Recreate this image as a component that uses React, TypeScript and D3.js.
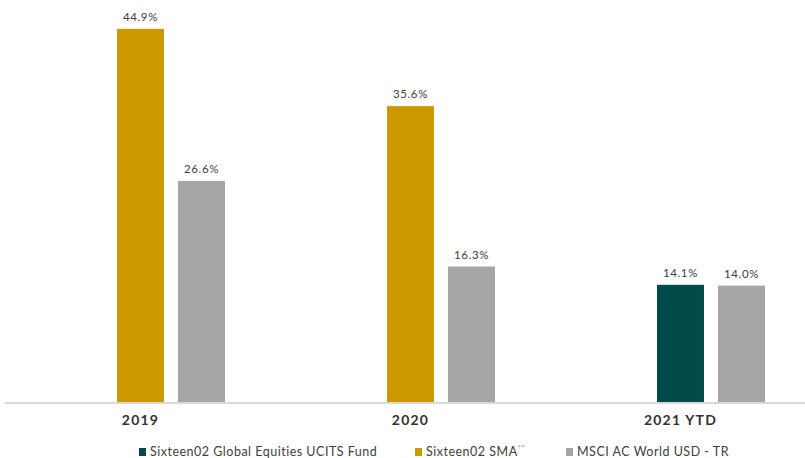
import * as d3 from "d3";

const categories = ["2019", "2020", "2021 YTD"];
const seriesNames = ["Sixteen02 Global Equities UCITS Fund", "Sixteen02 SMA", "MSCI AC World USD - TR"];
const fundValues: (number | null)[] = [null, null, 14.1];
const smaValues: (number | null)[] = [44.9, 35.6, null];
const msciValues: (number | null)[] = [26.6, 16.3, 14.0];
const colors = ["#014a4a", "#cc9900", "#a6a6a6"];

const W = 805;
const H = 458;

export default function App() {
  const base = 402;
  const y = d3.scaleLinear().domain([0, 45]).range([base, 28]);
  const x0 = d3.scaleBand<string>().domain(categories).range([117, 117 + 270 * 3]);
  const inner = d3.scaleBand<string>().domain(["0", "1"]).range([0, 108]).paddingInner(0.23);
  const bw = inner.bandwidth();

  const series = [fundValues, smaValues, msciValues];

  // nulls are skipped, remaining bars packed from the left slot
  const bars = categories.flatMap((c, ci) => {
    let slot = 0;
    const out: { key: string; x: number; v: number; color: string }[] = [];
    series.forEach((vals, si) => {
      const v = vals[ci];
      if (v == null) return;
      out.push({ key: c + si, x: (x0(c) ?? 0) + (inner(String(slot)) ?? 0), v, color: colors[si] });
      slot++;
    });
    return out;
  });

  const legendX = [139, 415, 566];

  return (
    <svg width={W} height={H} style={{ position: "absolute", left: 0, top: 0, fontFamily: "Lato, sans-serif" }}>
      <rect width={W} height={H} fill="#fff" />
      {bars.map((b) => (
        <g key={b.key}>
          <rect x={b.x} y={y(b.v)} width={bw} height={base - y(b.v)} fill={b.color} />
          <text x={b.x + bw / 2} y={y(b.v) - 8} textAnchor="middle" fontSize={11.5} letterSpacing={0.6} fill="#404040">
            {b.v.toFixed(1)}%
          </text>
        </g>
      ))}
      <line x1={5} x2={W} y1={base + 1} y2={base + 1} stroke="#d9d9d9" strokeWidth={2} />
      {categories.map((c) => (
        <text key={c} x={(x0(c) ?? 0) + (inner("0") ?? 0) + bw / 2} y={425} textAnchor="middle" fontSize={14} letterSpacing={1.2} fontWeight="bold" fill="#333">
          {c}
        </text>
      ))}
      {seriesNames.map((n, i) => (
        <g key={n} transform={`translate(${legendX[i]},0)`}>
          <rect x={0} y={448} width={7} height={8} fill={colors[i]} />
          <text x={11} y={456} fontSize={12.5} letterSpacing={0.5} fill="#404040">
            {n}
            {i === 1 ? <tspan dy={-5} fontSize={8} fill="#999">**</tspan> : null}
          </text>
        </g>
      ))}
    </svg>
  );
}
